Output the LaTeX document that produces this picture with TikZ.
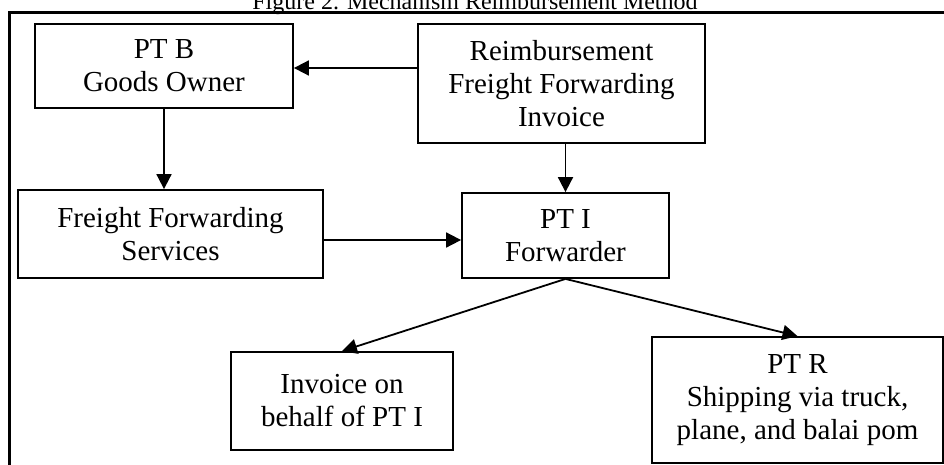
\documentclass[tikz,border=0pt]{standalone}
\usepackage{fontspec}
\setmainfont{Liberation Serif}
\usetikzlibrary{arrows.meta}
\begin{document}
\begin{tikzpicture}[x=1pt,y=-1pt,
  box/.style={draw, line width=1.8pt, rectangle, align=center, inner sep=0pt,
    font=\fontsize{29}{33}\selectfont, execute at begin node={\rule{0pt}{25pt}}},
  arr/.style={line width=1.8pt, -{Triangle[length=15pt,width=15pt]}},
]
\useasboundingbox (0,0) rectangle (944,464);
% caption and outer frame, cut off by the page edges
\begin{scope}
  \clip (0,0) rectangle (944,464);
  \node[font=\fontsize{24}{28}\selectfont, anchor=base, inner sep=0pt] (cap) at (475,9)
    {Figure 2. Mechanism Reimbursement Method};
  \draw[line width=3.5pt] (9.5,12.5) rectangle (1000,520);
\end{scope}

% boxes
\node[box, minimum width=258pt, minimum height=84pt]  (ptb)   at (164,66)     {PT B\\Goods Owner};
\node[box, minimum width=287pt, minimum height=119pt] (reimb) at (561.5,83.5) {Reimbursement\\Freight Forwarding\\Invoice};
\node[box, minimum width=305pt, minimum height=88pt]  (ffs)   at (170.5,234)  {Freight Forwarding\\Services};
\node[box, minimum width=207pt, minimum height=85pt]  (pti)   at (565.5,235.5){PT I\\Forwarder};
\node[box, minimum width=222pt, minimum height=98pt]  (inv)   at (342,401)    {Invoice on\\behalf of PT I};
\node[box, minimum width=291pt, minimum height=126pt] (ptr)   at (797.5,400)  {PT R\\Shipping via truck,\\plane, and balai pom};

% connectors
\coordinate (ra) at ([yshift=-2pt]ptb.east);
\draw[arr] (ra -| reimb.west) -- (ra);
\draw[arr] (ptb.south) -- (ptb.south |- ffs.north);
\coordinate (fa) at ([yshift=-6pt]ffs.east);
\draw[arr] (fa) -- (fa -| pti.west);
\draw[arr] (pti.north |- reimb.south) -- (pti.north);
\draw[arr] (pti.south) -- (inv.north);
\draw[arr] (pti.south) -- (ptr.north);
\end{tikzpicture}
\end{document}
